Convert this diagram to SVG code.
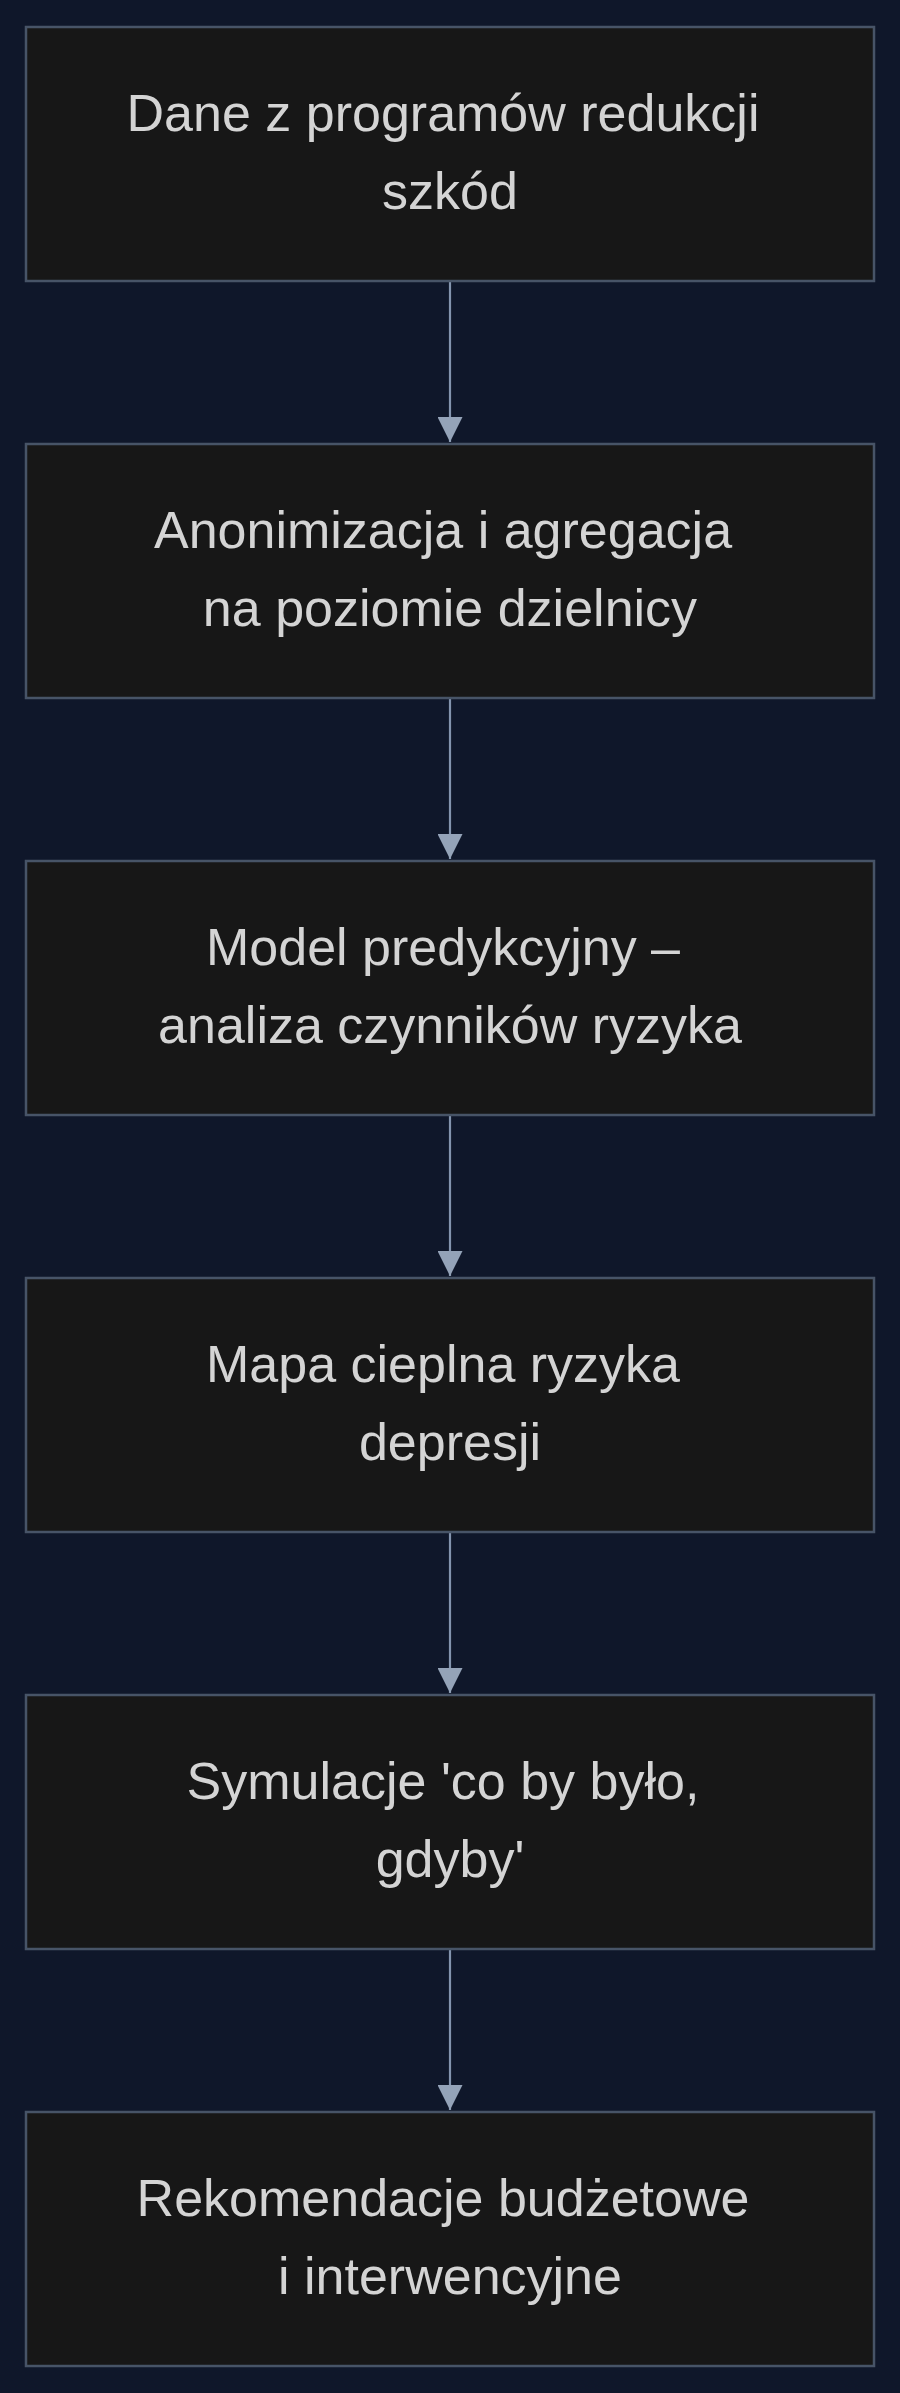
<svg xmlns="http://www.w3.org/2000/svg" width="900" height="2393" viewBox="0 0 900 2393">
<defs>
<style>
.box{fill:#171717;stroke:#475467;stroke-width:2.5}
.lbl{font-family:"Liberation Sans",Arial,sans-serif;font-size:52px;fill:#d4d4d4;text-anchor:middle}
.edge{stroke:#8394ae;stroke-width:2.2;fill:none}
</style>
<marker id="ah" viewBox="0 0 25 25" refX="25" refY="12.5" markerWidth="25" markerHeight="25" markerUnits="userSpaceOnUse" orient="auto">
<path d="M0,0 L25,12.5 L0,25 Z" fill="#94a3b8"/>
</marker>
</defs>
<rect width="900" height="2393" fill="#0f172a"/>
<g id="connectors">
<line class="edge" x1="450" y1="281" x2="450" y2="442" marker-end="url(#ah)"/>
<line class="edge" x1="450" y1="698" x2="450" y2="859" marker-end="url(#ah)"/>
<line class="edge" x1="450" y1="1115" x2="450" y2="1276" marker-end="url(#ah)"/>
<line class="edge" x1="450" y1="1532" x2="450" y2="1693" marker-end="url(#ah)"/>
<line class="edge" x1="450" y1="1949" x2="450" y2="2110" marker-end="url(#ah)"/>
</g>
<g id="n1">
<rect class="box" x="26" y="27" width="848" height="254"/>
<text class="lbl" x="443" y="131">Dane z programów redukcji</text>
<text class="lbl" x="450" y="209">szkód</text>
</g>
<g id="n2">
<rect class="box" x="26" y="444" width="848" height="254"/>
<text class="lbl" x="443" y="548">Anonimizacja i agregacja</text>
<text class="lbl" x="450" y="626">na poziomie dzielnicy</text>
</g>
<g id="n3">
<rect class="box" x="26" y="861" width="848" height="254"/>
<text class="lbl" x="443" y="965">Model predykcyjny –</text>
<text class="lbl" x="450" y="1043">analiza czynników ryzyka</text>
</g>
<g id="n4">
<rect class="box" x="26" y="1278" width="848" height="254"/>
<text class="lbl" x="443" y="1382">Mapa cieplna ryzyka</text>
<text class="lbl" x="450" y="1460">depresji</text>
</g>
<g id="n5">
<rect class="box" x="26" y="1695" width="848" height="254"/>
<text class="lbl" x="443" y="1799">Symulacje 'co by było,</text>
<text class="lbl" x="450" y="1877">gdyby'</text>
</g>
<g id="n6">
<rect class="box" x="26" y="2112" width="848" height="254"/>
<text class="lbl" x="443" y="2216">Rekomendacje budżetowe</text>
<text class="lbl" x="450" y="2294">i interwencyjne</text>
</g>
</svg>
